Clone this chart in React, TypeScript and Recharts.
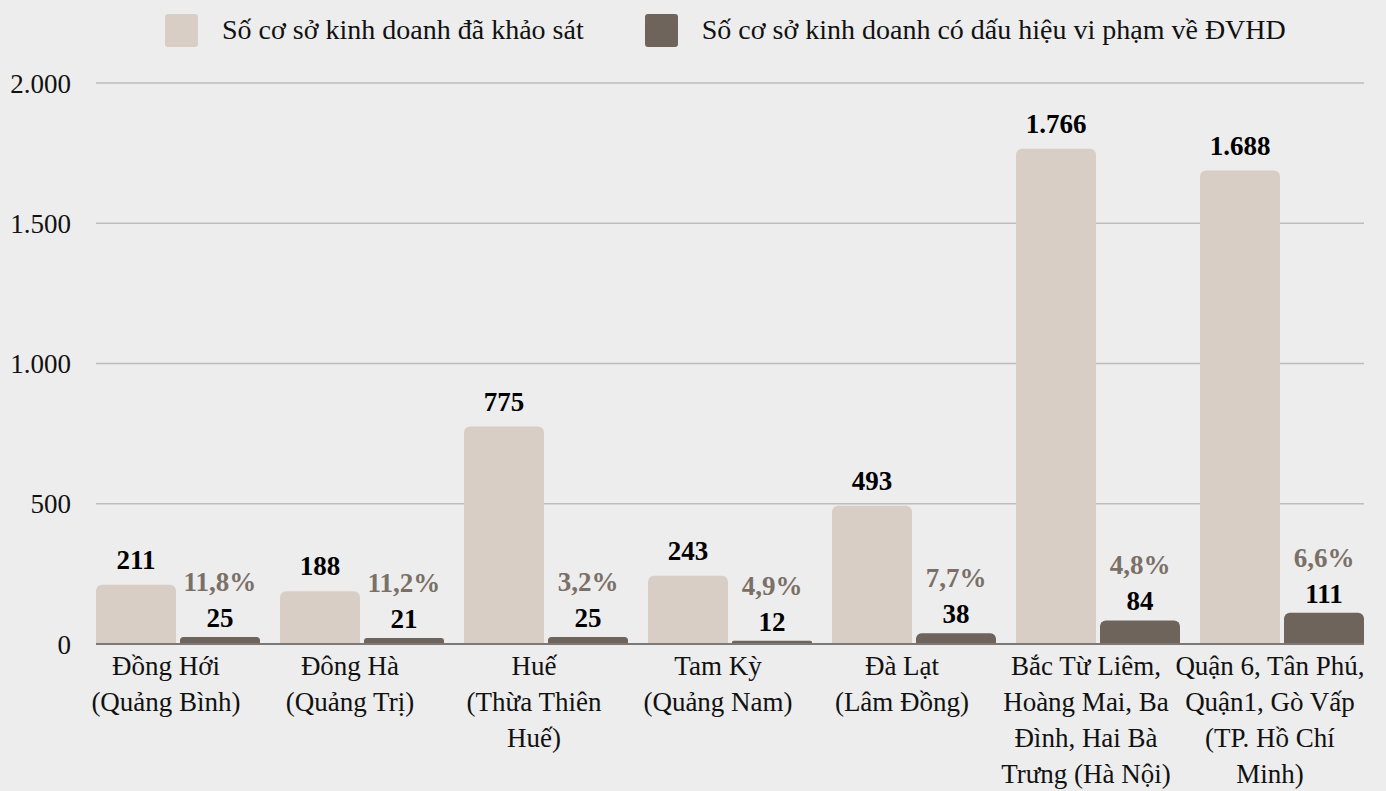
import { BarChart, Bar, XAxis, YAxis, CartesianGrid, Legend, LabelList } from 'recharts'

const CATEGORIES = [
  'Đồng Hới\n(Quảng Bình)',
  'Đông Hà\n(Quảng Trị)',
  'Huế\n(Thừa Thiên\nHuế)',
  'Tam Kỳ\n(Quảng Nam)',
  'Đà Lạt\n(Lâm Đồng)',
  'Bắc Từ Liêm,\nHoàng Mai, Ba\nĐình, Hai Bà\nTrưng (Hà Nội)',
  'Quận 6, Tân Phú,\nQuận1, Gò Vấp\n(TP. Hồ Chí\nMinh)',
]
const SURVEYED = [211, 188, 775, 243, 493, 1766, 1688]
const VIOLATING = [25, 21, 25, 12, 38, 84, 111]
const VIOLATION_RATE = ['11,8%', '11,2%', '3,2%', '4,9%', '7,7%', '4,8%', '6,6%']
const Y_TICKS = [0, 500, 1000, 1500, 2000]

const SERIES_NAMES = [
  'Số cơ sở kinh doanh đã khảo sát',
  'Số cơ sở kinh doanh có dấu hiệu vi phạm về ĐVHD',
]

const LIGHT = '#D8CEC6'
const DARK = '#6E645C'
const FONT = '"Liberation Serif", "Times New Roman", serif'

const data = CATEGORIES.map((name, i) => ({
  name,
  surveyed: SURVEYED[i],
  violating: VIOLATING[i],
  rate: VIOLATION_RATE[i],
}))

// 1766 -> "1.766"
const fmt = (v: number) => String(v).replace(/\B(?=(\d{3})+(?!\d))/g, '.')

function CategoryTick({ x, y, payload }: any) {
  const lines = String(payload.value).split('\n')
  // labels sit a little left of the group centre in the original
  const cx = x - 12
  return (
    <text x={cx} y={y} textAnchor="middle" fill="#111" fontSize={27} fontFamily={FONT}>
      {lines.map((line, i) => (
        <tspan key={i} x={cx} dy={i === 0 ? 23 : 36}>
          {line}
        </tspan>
      ))}
    </text>
  )
}

function LegendContent({ payload }: any) {
  // keep series order (legend sorts by name otherwise)
  const items = [...(payload || [])].sort(
    (a: any, b: any) => SERIES_NAMES.indexOf(a.value) - SERIES_NAMES.indexOf(b.value),
  )
  return (
    <div style={{ display: 'flex', alignItems: 'center', paddingLeft: 165, paddingTop: 12, fontFamily: FONT }}>
      {items.map((entry: any, i: number) => (
        <div key={i} style={{ display: 'flex', alignItems: 'center', marginLeft: i === 0 ? 0 : 61 }}>
          <div style={{ width: 33, height: 33, background: entry.color, borderRadius: 3, marginRight: 24 }} />
          <span style={{ fontSize: 28, color: '#111', lineHeight: '36px' }}>{entry.value}</span>
        </div>
      ))}
    </div>
  )
}

export default function App() {
  return (
    <div style={{ position: 'fixed', inset: 0, background: '#EDEDED' }}>
      <div style={{ position: 'absolute', left: 0, top: 0 }}>
        <BarChart
          width={1386}
          height={791}
          data={data}
          margin={{ top: 83, right: 22, bottom: 0, left: 0 }}
          barGap={4}
          style={{ fontFamily: FONT }}
        >
          <CartesianGrid vertical={false} stroke="#BDBDBD" strokeWidth={1.5} />
          <XAxis
            dataKey="name"
            interval={0}
            height={147}
            tick={<CategoryTick />}
            tickLine={false}
            axisLine={{ stroke: '#7A7A7A', strokeWidth: 2 }}
            padding={{ left: -10, right: -10 }}
          />
          <YAxis
            width={96}
            domain={[0, 2000]}
            ticks={Y_TICKS}
            tickFormatter={fmt}
            tick={{ fill: '#111', fontSize: 27, fontFamily: FONT }}
            tickLine={false}
            axisLine={false}
            tickMargin={19}
          />
          <Legend
            layout="horizontal"
            verticalAlign="middle"
            align="center"
            wrapperStyle={{ top: 0, left: 0, width: 1386, height: 60 }}
            content={<LegendContent />}
          />
          <Bar
            dataKey="surveyed"
            name={SERIES_NAMES[0]}
            fill={LIGHT}
            barSize={80}
            radius={[6, 6, 0, 0]}
            isAnimationActive={false}
          >
            <LabelList
              dataKey="surveyed"
              position="top"
              offset={16}
              formatter={(v: any) => fmt(Number(v))}
              fill="#000"
              fontSize={27}
              fontWeight="bold"
              fontFamily={FONT}
            />
          </Bar>
          <Bar
            dataKey="violating"
            name={SERIES_NAMES[1]}
            fill={DARK}
            barSize={80}
            radius={[6, 6, 0, 0]}
            isAnimationActive={false}
          >
            <LabelList
              dataKey="violating"
              position="top"
              offset={10}
              fill="#000"
              fontSize={27}
              fontWeight="bold"
              fontFamily={FONT}
            />
            <LabelList
              dataKey="rate"
              position="top"
              offset={46}
              fill="#7B7068"
              fontSize={27}
              fontWeight="bold"
              fontFamily={FONT}
            />
          </Bar>
        </BarChart>
      </div>
    </div>
  )
}
